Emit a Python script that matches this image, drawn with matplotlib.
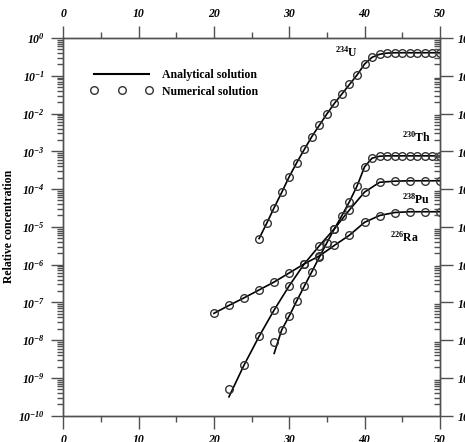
import numpy as np
import matplotlib
matplotlib.use("Agg")
import matplotlib.pyplot as plt
from matplotlib.lines import Line2D

plt.rcParams['font.family'] = ['Liberation Serif', 'DejaVu Serif']
plt.rcParams['font.weight'] = 'bold'
plt.rcParams['mathtext.fontset'] = 'custom'
plt.rcParams['mathtext.rm'] = 'Liberation Serif:bold:italic'
plt.rcParams['mathtext.it'] = 'Liberation Serif:bold:italic'
plt.rcParams['mathtext.bf'] = 'Liberation Serif:bold'

# numerical solution (markers), values are log10 of relative concentration
u_x = list(range(26, 51))
u_log = [-5.31, -4.91, -4.49, -4.09, -3.67, -3.30, -2.95, -2.61, -2.31, -2.01,
         -1.73, -1.48, -1.23, -0.98, -0.69, -0.51, -0.43, -0.40, -0.39, -0.39,
         -0.39, -0.39, -0.39, -0.39, -0.39]
th_x = list(range(28, 51))
th_log = [-8.04, -7.73, -7.36, -6.96, -6.57, -6.19, -5.80, -5.42, -5.05, -4.70,
          -4.33, -3.92, -3.41, -3.18, -3.13, -3.12, -3.12, -3.12, -3.12, -3.12,
          -3.12, -3.12, -3.12]
pu_x = list(range(22, 51, 2))
pu_log = [-9.28, -8.66, -7.90, -7.20, -6.56, -5.98, -5.50, -5.05, -4.55, -4.08,
          -3.82, -3.79, -3.78, -3.78, -3.78]
ra_x = list(range(20, 51, 2))
ra_log = [-7.29, -7.08, -6.88, -6.67, -6.46, -6.22, -5.98, -5.77, -5.49, -5.22,
          -4.88, -4.70, -4.62, -4.60, -4.60, -4.60]

# analytical solution (lines)
u_line_x = u_x
u_line_log = u_log
th_line_x = list(range(28, 51))
th_line_log = [-8.35] + th_log[1:]
pu_line_x = pu_x
pu_line_log = [-9.50] + pu_log[1:]
ra_line_x = ra_x
ra_line_log = ra_log

labels = [r'$^{\mathbf{234}}$U', r'$^{\mathbf{230}}$Th', r'$^{\mathbf{238}}$Pu', r'$^{\mathbf{226}}$Ra']
label_x = [37.6, 46.9, 46.9, 45.3]
label_log = [-0.38, -2.63, -4.26, -5.28]

xticks = [0, 10, 20, 30, 40, 50]
yticks = [10.0 ** k for k in range(0, -11, -1)]
ytick_labels = [r'$10^{%d}$' % k for k in range(0, -11, -1)]

gray = '#505050'

fig = plt.figure(figsize=(4.65, 4.42), dpi=100)
ax = fig.add_axes([0.136, 0.0595, 0.81, 0.8545])

for lx, ly, mx, my in [(u_line_x, u_line_log, u_x, u_log),
                       (th_line_x, th_line_log, th_x, th_log),
                       (pu_line_x, pu_line_log, pu_x, pu_log),
                       (ra_line_x, ra_line_log, ra_x, ra_log)]:
    ax.plot(lx, 10.0 ** np.array(ly), color='black', lw=1.2, zorder=3)
    ax.plot(mx, 10.0 ** np.array(my), 'o', mfc='none', mec='#333333',
            ms=5.5, mew=1.0, zorder=4)

for txt, x, y in zip(labels, label_x, label_log):
    ax.text(x, 10.0 ** y, txt, ha='center', va='center', fontsize=8.5,
            fontweight='bold')

ax.set_yscale('log')
ax.set_xlim(0, 50)
ax.set_ylim(1e-10, 1)
ax.set_xticks(xticks, labels=[str(v) for v in xticks], fontstyle='italic',
              fontweight='bold', fontsize=8.5)
ax.set_xticks(range(5, 50, 10), minor=True)
ax.set_yticks(yticks, labels=ytick_labels, fontsize=8.5)
ax.yaxis.set_minor_locator(matplotlib.ticker.LogLocator(base=10, subs=np.arange(2, 10), numticks=20))
ax.yaxis.set_minor_formatter(matplotlib.ticker.NullFormatter())

ax.tick_params(which='both', direction='out', colors=gray, labelcolor='black',
               top=True, labeltop=True, right=False, width=1.0)
ax.tick_params(which='major', length=9, pad=4)
ax.tick_params(which='minor', length=4.5)

ax2 = ax.twinx()
ax2.set_yscale('log')
ax2.set_ylim(1e-10, 1)
ax2.set_yticks(yticks, labels=ytick_labels, fontsize=8.5)
ax2.yaxis.set_minor_locator(matplotlib.ticker.LogLocator(base=10, subs=np.arange(2, 10), numticks=20))
ax2.yaxis.set_minor_formatter(matplotlib.ticker.NullFormatter())
ax2.tick_params(which='major', direction='out', length=9, pad=3, colors=gray,
                labelcolor='black', width=1.0)
ax2.tick_params(which='minor', direction='in', length=4.5, colors=gray, width=1.0)

for a in (ax, ax2):
    for s in a.spines.values():
        s.set_color(gray)
        s.set_linewidth(1.0)

ax.set_ylabel('Relative concentration', fontsize=8.5, fontweight='bold', labelpad=2)

handles = [Line2D([], [], color='black', lw=1.5),
           Line2D([], [], ls='none', marker='o', mfc='none', mec='#333333', ms=5.5, mew=1.0)]
ax.legend(handles, ['Analytical solution', 'Numerical solution'], loc='upper left',
          bbox_to_anchor=(0.045, 0.945), frameon=False, numpoints=3,
          handlelength=5.2, handletextpad=0.8, labelspacing=0.35,
          prop={'size': 8.5, 'weight': 'bold'})

fig.savefig('out.png', dpi=100)
